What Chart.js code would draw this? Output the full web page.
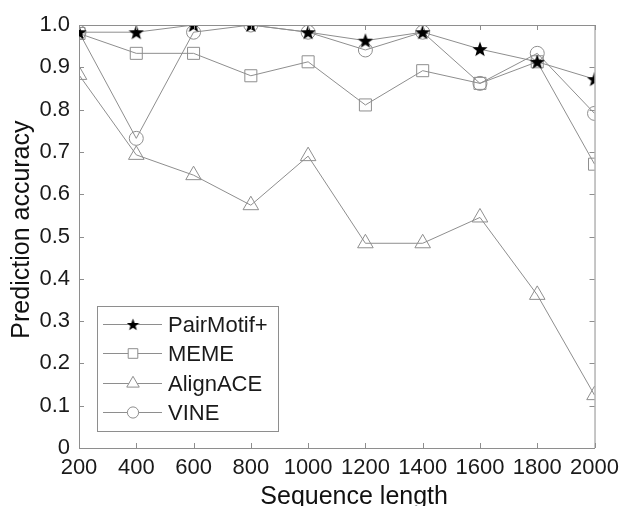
<!DOCTYPE html>
<html>
<head>
<meta charset="utf-8">
<script src="https://cdn.jsdelivr.net/npm/chart.js@4.4.1/dist/chart.umd.min.js"></script>
<style>
  html, body { margin: 0; padding: 0; background: #fff; }
</style>
</head>
<body>
<canvas id="grafico" width="626" height="506"></canvas>
<script>
// datos
const longitudes = [200, 400, 600, 800, 1000, 1200, 1400, 1600, 1800, 2000];
const pairMotif = [0.983, 0.983, 1.0, 1.0, 0.983, 0.963, 0.983, 0.943, 0.913, 0.872];
const meme = [0.98, 0.933, 0.933, 0.88, 0.913, 0.811, 0.892, 0.862, 0.913, 0.671];
const alignAce = [0.882, 0.693, 0.645, 0.574, 0.69, 0.484, 0.484, 0.545, 0.362, 0.125];
const vine = [0.983, 0.732, 0.983, 1.0, 0.983, 0.941, 0.983, 0.862, 0.933, 0.791];
const nombres = ['PairMotif+', 'MEME', 'AlignACE', 'VINE'];

const GRIS = '#8e8e8e';
const FUENTE = '"Liberation Sans", Arial, sans-serif';

// estrella rellena para PairMotif+
function crearEstrella(tam) {
  const c = document.createElement('canvas');
  c.width = tam; c.height = tam;
  const ctx = c.getContext('2d');
  const cx = tam / 2, cy = tam / 2 + 0.6, rExt = tam / 2, rInt = tam / 2 * 0.42;
  ctx.beginPath();
  for (let i = 0; i < 10; i++) {
    const r = i % 2 === 0 ? rExt : rInt;
    const a = -Math.PI / 2 + i * Math.PI / 5;
    ctx.lineTo(cx + r * Math.cos(a), cy + r * Math.sin(a));
  }
  ctx.closePath();
  ctx.fillStyle = '#000';
  ctx.fill();
  return c;
}
const estrella = crearEstrella(16);
const estrellaChica = crearEstrella(13);

function serie(nombre, valores, estilo, radio) {
  return {
    label: nombre,
    data: longitudes.map((x, i) => ({x: x, y: valores[i]})),
    borderColor: GRIS,
    borderWidth: 1,
    pointStyle: estilo,
    pointRadius: radio,
    pointBorderColor: GRIS,
    pointBorderWidth: 1,
    pointBackgroundColor: 'rgba(0,0,0,0)',
    tension: 0
  };
}

const datasets = [
  serie(nombres[0], pairMotif, estrella, 8),
  serie(nombres[1], meme, 'rect', 8.5),
  serie(nombres[2], alignAce, 'triangle', 9),
  serie(nombres[3], vine, 'circle', 7)
];

// marco, marcas hacia dentro y leyenda
const marcoYLeyenda = {
  id: 'marcoYLeyenda',
  afterDraw(chart) {
    const ctx = chart.ctx;
    const ca = chart.chartArea;
    const sx = chart.scales.x, sy = chart.scales.y;
    const L = 5;
    ctx.save();
    ctx.strokeStyle = GRIS;
    ctx.lineWidth = 1;
    ctx.beginPath();
    ctx.moveTo(ca.left, ca.top + 0.5); ctx.lineTo(ca.right + 0.5, ca.top + 0.5);
    ctx.moveTo(ca.right + 0.5, ca.top); ctx.lineTo(ca.right + 0.5, ca.bottom);
    sx.ticks.forEach(t => {
      const px = Math.round(sx.getPixelForValue(t.value)) + 0.5;
      ctx.moveTo(px, ca.bottom); ctx.lineTo(px, ca.bottom - L);
      ctx.moveTo(px, ca.top); ctx.lineTo(px, ca.top + L);
    });
    sy.ticks.forEach(t => {
      const py = Math.round(sy.getPixelForValue(t.value)) + 0.5;
      ctx.moveTo(ca.left, py); ctx.lineTo(ca.left + L, py);
      ctx.moveTo(ca.right, py); ctx.lineTo(ca.right - L, py);
    });
    ctx.stroke();

    // leyenda
    const x0 = ca.left + 18, y0 = ca.bottom - 142, w = 181, h = 125;
    ctx.fillStyle = '#fff';
    ctx.fillRect(x0, y0, w, h);
    ctx.strokeStyle = GRIS;
    ctx.strokeRect(x0 + 0.5, y0 + 0.5, w, h);
    ctx.font = '22px ' + FUENTE;
    ctx.textBaseline = 'middle';
    chart.data.datasets.forEach((ds, i) => {
      const y = Math.round(y0 + 18 + i * 29.3) + 0.5;
      ctx.strokeStyle = GRIS;
      ctx.beginPath();
      ctx.moveTo(x0 + 6, y); ctx.lineTo(x0 + 65, y);
      ctx.stroke();
      const estilo = i === 0 ? estrellaChica : ds.pointStyle;
      ctx.fillStyle = '#fff';
      Chart.helpers.drawPoint(ctx, {
        pointStyle: estilo, radius: ds.pointRadius * 0.8, rotation: 0, borderWidth: 1
      }, x0 + 36, y);
      ctx.fillStyle = '#1a1a1a';
      ctx.fillText(ds.label, x0 + 71, y + 1);
    });
    ctx.restore();
  }
};

new Chart(document.getElementById('grafico'), {
  type: 'line',
  data: { datasets: datasets },
  options: {
    responsive: false,
    animation: false,
    layout: { padding: { top: 25, right: 27, left: 0, bottom: 0 } },
    plugins: { legend: { display: false }, tooltip: { enabled: false } },
    scales: {
      x: {
        type: 'linear',
        min: 200, max: 2000,
        afterFit(scale) { scale.height = 58; },
        grid: { display: false, drawTicks: false },
        border: { display: true, color: GRIS, width: 1 },
        ticks: {
          stepSize: 200, padding: 7, color: '#1a1a1a', maxRotation: 0,
          font: { family: FUENTE, size: 22 },
          callback: v => String(v)
        },
        title: {
          display: true, text: '     Sequence length', color: '#111',
          font: { family: FUENTE, size: 25, lineHeight: 0.7 },
          padding: { top: 0, bottom: 0 }
        }
      },
      y: {
        min: 0, max: 1,
        afterFit(scale) { scale.width = 79; },
        grid: { display: false, drawTicks: false },
        border: { display: true, color: GRIS, width: 1 },
        ticks: {
          stepSize: 0.1, padding: 9, color: '#1a1a1a',
          font: { family: FUENTE, size: 22 },
          callback: v => v === 0 ? '0' : v.toFixed(1)
        },
        title: {
          display: true, text: '  Prediction accuracy', color: '#111',
          font: { family: FUENTE, size: 25, lineHeight: 1 },
          padding: { top: 10, bottom: 0 }
        }
      }
    }
  },
  plugins: [marcoYLeyenda]
});
</script>
</body>
</html>
